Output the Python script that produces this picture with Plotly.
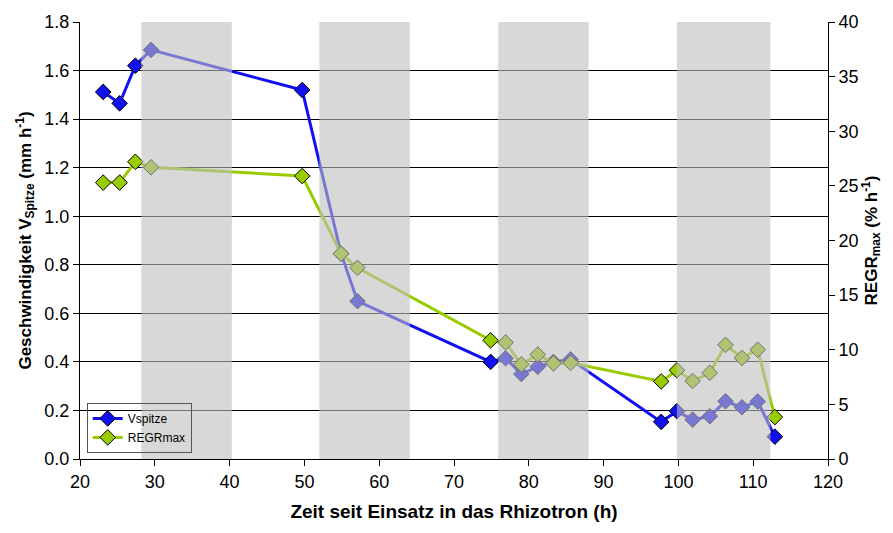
import plotly.graph_objects as go

# Data
zeit = [23.1, 25.3, 27.4, 29.5, 49.7, 54.9, 57.1, 74.9, 76.9, 79.0, 81.2, 83.3, 85.6,
        97.7, 99.8, 101.9, 104.2, 106.3, 108.5, 110.6, 112.9]
v_spitze = [1.512, 1.465, 1.62, 1.685, 1.52, 0.846, 0.65, 0.40, 0.415, 0.35, 0.38, 0.40, 0.41,
            0.153, 0.197, 0.162, 0.176, 0.238, 0.213, 0.237, 0.092]
regr_max = [25.3, 25.3, 27.2, 26.7, 25.9, 18.8, 17.5, 10.86, 10.67, 8.66, 9.56, 8.75, 8.8,
            7.1, 8.12, 7.14, 7.89, 10.45, 9.25, 10.0, 3.84]
nacht_start = [28.2, 52.0, 75.9, 99.8]
nacht_ende = [40.3, 64.1, 88.0, 112.3]

fig = go.Figure()
fig.add_trace(go.Scatter(
    x=zeit, y=v_spitze, name="Vspitze", mode="lines+markers",
    line=dict(color="#1010F0", width=3),
    marker=dict(symbol="diamond", size=12, color="#1010F0", line=dict(color="black", width=1)),
    yaxis="y"))
fig.add_trace(go.Scatter(
    x=zeit, y=regr_max, name="REGRmax", mode="lines+markers",
    line=dict(color="#99CC00", width=3),
    marker=dict(symbol="diamond", size=12, color="#99CC00", line=dict(color="black", width=1)),
    yaxis="y2"))

for a, b in zip(nacht_start, nacht_ende):
    fig.add_shape(type="rect", xref="x", yref="paper", x0=a, x1=b, y0=0, y1=1,
                  fillcolor="rgba(190,190,190,0.6)", line=dict(width=0), layer="above")

tickfont = dict(family="Liberation Sans, Arial", size=18, color="black")
titlefont = dict(family="Liberation Sans, Arial", size=17, color="black")
xtitlefont = dict(family="Liberation Sans, Arial", size=19, color="black")

fig.update_layout(
    width=893, height=533,
    margin=dict(l=80, r=65, t=16, b=74),
    plot_bgcolor="white", paper_bgcolor="white",
    showlegend=True,
    legend=dict(x=0.009, y=0.014, xanchor="left", yanchor="bottom",
                bgcolor="rgba(255,255,255,0)", bordercolor="#555", borderwidth=1,
                font=dict(family="Liberation Sans, Arial", size=12, color="black"),
                tracegroupgap=0, itemwidth=30),
    xaxis=dict(range=[20, 120], dtick=10, tickfont=tickfont,
               showline=True, linecolor="black", linewidth=1,
               ticks="outside", ticklen=6, tickcolor="black", showgrid=False, zeroline=False,
               title=dict(text="<b>Zeit seit Einsatz in das Rhizotron (h)</b>", font=xtitlefont, standoff=14)),
    yaxis=dict(range=[0, 1.8], dtick=0.2, tickformat=".1f", tickfont=tickfont,
               showline=True, linecolor="black", linewidth=1,
               ticks="outside", ticklen=6, tickcolor="black",
               showgrid=True, gridcolor="black", gridwidth=1, zeroline=False,
               title=dict(text="<b>Geschwindigkeit V<sub>Spitze</sub> (mm h<sup>-1</sup>)</b>", font=titlefont, standoff=8)),
    yaxis2=dict(range=[0, 40], dtick=5, tickfont=tickfont, overlaying="y", side="right",
                showline=True, linecolor="black", linewidth=1,
                ticks="outside", ticklen=6, tickcolor="black", showgrid=False, zeroline=False,
                title=dict(text="<b>REGR<sub>max</sub> (% h<sup>-1</sup>)</b>", font=titlefont, standoff=6)),
)

fig.write_html("out.html")
